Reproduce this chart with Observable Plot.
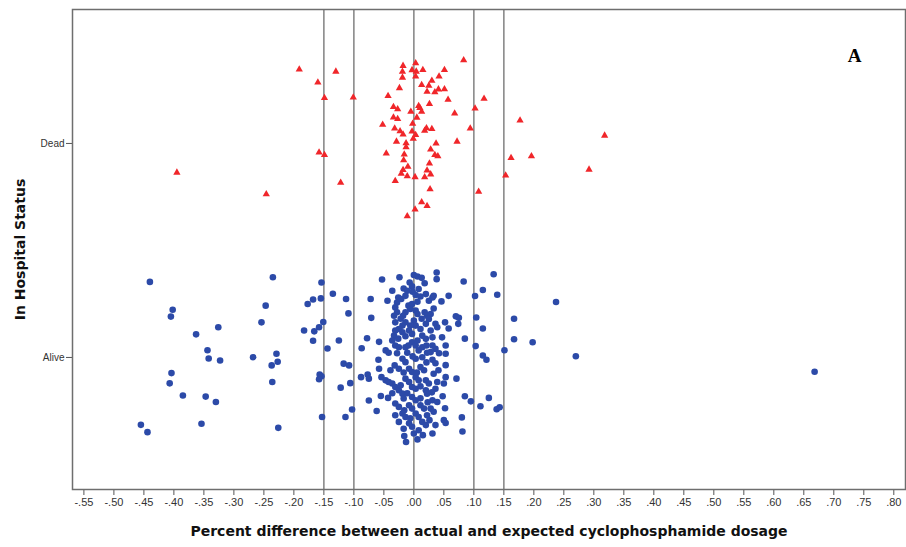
<!DOCTYPE html>
<html><head><meta charset="utf-8">
<script src="https://cdn.jsdelivr.net/npm/d3@7"></script>
<script src="https://cdn.jsdelivr.net/npm/@observablehq/plot@0.6"></script>
<style>body{margin:0;background:#fff;overflow:hidden}</style>
</head><body><div id="chart"></div>
<script>
// Categories (numeric codes on the y scale: Alive = 0, Dead = 1)
const statuses = ["Alive", "Dead"];
// x tick values and labels
const xTicks = [-0.55,-0.50,-0.45,-0.40,-0.35,-0.30,-0.25,-0.20,-0.15,-0.10,-0.05,0.00,0.05,0.10,0.15,0.20,0.25,0.30,0.35,0.40,0.45,0.50,0.55,0.60,0.65,0.70,0.75,0.80];
// reference lines
const referenceLines = [-0.15, -0.10, 0.00, 0.10, 0.15];
// [percent difference, vertical jitter in status units] for patients who died
const deadPoints = [
[-0.191,0.346],[-0.130,0.336],[-0.160,0.285],[-0.149,0.213],[-0.101,0.215],[-0.158,-0.042],[-0.149,-0.054],[-0.395,-0.136],[-0.122,-0.183],[-0.246,-0.237],
[0.083,0.389],[0.117,0.209],[0.102,0.164],[0.068,0.140],[0.094,0.070],[0.072,0.009],[0.177,0.108],[0.318,0.037],[0.162,-0.068],[0.196,-0.059],[0.292,-0.122],[0.153,-0.149],[0.108,-0.225],
[-0.018,0.363],[0.003,0.375],[-0.019,0.335],[-0.003,0.343],[0.004,0.336],[0.015,0.344],[-0.019,0.308],[0.003,0.313],[0.051,0.344],[0.042,0.313],
[0.030,0.293],[0.013,0.274],[0.025,0.270],[-0.024,0.259],[0.041,0.253],[0.051,0.254],[0.035,0.240],[0.022,0.242],[-0.043,0.222],[0.057,0.205],
[0.026,0.185],[-0.034,0.171],[-0.027,0.160],[0.008,0.175],[0.010,0.166],[-0.005,0.149],[0.013,0.149],[-0.034,0.122],[-0.027,0.115],[0.005,0.121],
[-0.052,0.088],[-0.002,0.092],[-0.032,0.070],[-0.023,0.057],[-0.018,0.042],[-0.003,0.056],[0.003,0.040],[-0.001,0.022],[0.018,0.060],[0.021,0.071],
[0.030,0.068],[-0.029,0.009],[-0.013,0.001],[-0.013,-0.017],[0.037,0.000],[0.028,-0.028],[-0.046,-0.047],[-0.016,-0.051],[0.035,-0.054],[0.040,-0.059],
[-0.017,-0.078],[0.026,-0.093],[-0.010,-0.108],[-0.018,-0.124],[-0.021,-0.141],[0.022,-0.126],[0.028,-0.144],[-0.011,-0.153],[0.002,-0.157],[0.018,-0.158],
[-0.031,-0.175],[0.027,-0.214],[0.013,-0.274],[0.022,-0.292],[0.002,-0.308],[-0.011,-0.340]
];
// [percent difference, vertical jitter in status units] for patients alive at discharge
const alivePoints = [
[-0.440,0.353],[-0.235,0.375],[-0.402,0.223],[-0.405,0.191],[-0.326,0.141],[-0.363,0.108],[-0.247,0.242],[-0.254,0.164],[-0.344,0.034],[-0.342,-0.005],
[-0.323,-0.014],[-0.268,0.001],[-0.229,0.017],[-0.227,-0.020],[-0.237,-0.037],[-0.236,-0.115],[-0.404,-0.073],[-0.407,-0.121],[-0.385,-0.178],[-0.347,-0.183],
[-0.330,-0.208],[-0.455,-0.315],[-0.444,-0.349],[-0.354,-0.310],[-0.226,-0.329],
[-0.154,0.350],[-0.135,0.298],[-0.168,0.271],[-0.155,0.276],[-0.177,0.250],[-0.113,0.273],[-0.109,0.206],[-0.151,0.166],[-0.158,0.141],[-0.166,0.122],
[-0.183,0.126],[-0.168,0.078],[-0.125,0.079],[-0.144,0.042],[-0.117,-0.029],[-0.108,-0.037],[-0.157,-0.080],[-0.154,-0.088],[-0.158,-0.102],[-0.122,-0.141],
[-0.106,-0.120],[-0.153,-0.278],[-0.114,-0.278],[-0.103,-0.243],[-0.053,0.364],[-0.024,0.375],[-0.072,0.273],[-0.044,0.265],[-0.071,0.185],[-0.078,0.090],
[-0.058,0.073],[-0.087,0.043],[-0.059,-0.011],[-0.058,-0.053],[-0.088,-0.092],[-0.077,-0.080],[-0.075,-0.099],[-0.054,-0.092],[-0.075,-0.201],[-0.055,-0.180],
[-0.043,-0.189],[-0.062,-0.250],[-0.013,-0.395],
[0.000,0.385],[0.006,0.378],[0.013,0.372],[0.038,0.397],[0.038,0.366],[0.018,0.347],[-0.007,0.350],[-0.003,0.332],[-0.017,0.322],[-0.011,0.312],
[-0.026,0.280],[-0.028,0.257],[-0.021,0.273],[-0.014,0.288],[-0.002,0.307],[0.003,0.292],[0.008,0.320],[0.011,0.285],[0.020,0.296],[0.031,0.280],
[0.033,0.288],[0.006,0.260],[-0.009,0.242],[-0.006,0.227],[-0.003,0.250],[-0.031,0.234],[-0.028,0.211],[0.033,0.229],[-0.014,0.211],[-0.018,0.195],
[-0.033,0.195],[-0.031,0.164],[0.003,0.219],[0.006,0.203],[0.018,0.211],[0.022,0.195],[0.028,0.203],[0.025,0.180],[0.000,0.172],[0.003,0.149],
[-0.014,0.164],[-0.019,0.149],[-0.025,0.133],[-0.031,0.126],[0.036,0.157],[0.039,0.141],[0.020,0.157],[-0.008,0.126],[-0.003,0.110],[0.011,0.133],
[-0.014,0.099],[-0.019,0.118],[-0.033,0.102],[-0.036,0.079],[0.014,0.102],[0.020,0.087],[0.031,0.094],[0.047,0.094],[-0.003,0.071],[0.003,0.056],
[-0.031,0.056],[-0.025,0.048],[-0.014,0.048],[0.014,0.048],[0.008,0.033],[0.031,0.056],[0.036,0.040],[-0.047,0.033],[-0.042,0.022],[-0.011,0.022],[0.022,0.022],
[-0.028,0.020],[0.028,0.025],[0.042,0.020],[-0.019,-0.006],[-0.014,-0.022],[0.003,-0.006],[0.014,0.001],[0.031,-0.011],[0.036,-0.027],[-0.032,-0.037],
[-0.025,-0.053],[-0.008,-0.053],[-0.003,-0.068],[0.011,-0.045],[0.017,-0.060],[0.033,-0.076],[0.053,-0.092],[0.071,-0.099],[-0.047,-0.107],[-0.042,-0.115],
[-0.014,-0.099],[-0.008,-0.115],[0.003,-0.092],[0.008,-0.107],[0.020,-0.107],[0.025,-0.122],[0.039,-0.115],[0.050,-0.122],[-0.036,-0.122],[-0.031,-0.138],
[-0.025,-0.153],[-0.003,-0.138],[0.003,-0.146],[0.020,-0.153],[0.022,-0.169],[0.036,-0.146],[-0.019,-0.169],[-0.017,-0.192],[-0.003,-0.185],[0.003,-0.200],
[0.031,-0.200],[0.039,-0.208],[-0.031,-0.215],[-0.025,-0.231],[-0.008,-0.223],[-0.003,-0.239],[0.011,-0.223],[0.017,-0.239],[0.028,-0.239],[0.033,-0.254],
[-0.019,-0.262],[-0.014,-0.278],[0.003,-0.262],[0.008,-0.278],[0.022,-0.270],[0.050,-0.293],[0.053,-0.306],[-0.025,-0.301],[-0.008,-0.308],[-0.003,-0.324],
[0.014,-0.301],[0.020,-0.316],[0.036,-0.316],[-0.017,-0.333],[0.008,-0.340],[0.031,-0.355],[0.006,-0.383],[0.000,-0.355],
[-0.036,0.312],[0.025,0.265],[-0.022,0.181],[0.013,0.181],[-0.006,0.149],[0.028,0.126],[-0.026,0.088],[0.006,0.079],[-0.009,0.056],[0.021,0.056],
[-0.002,0.005],[0.021,-0.023],[-0.039,-0.060],[-0.017,-0.070],[0.005,-0.070],[0.041,-0.060],[-0.022,-0.130],[0.011,-0.135],[0.030,-0.163],[-0.036,-0.167],
[-0.011,-0.167],[0.011,-0.191],[0.048,-0.181],[0.023,-0.209],[-0.016,-0.247],[-0.006,-0.284],[0.026,-0.293],[-0.031,-0.270],[0.015,-0.363],[-0.016,-0.367],
[0.083,0.355],[0.133,0.389],[0.115,0.315],[0.139,0.293],[0.102,0.287],[0.237,0.259],[0.104,0.187],[0.167,0.181],[0.115,0.135],[0.167,0.085],
[0.198,0.071],[0.085,0.088],[0.103,0.053],[0.115,0.009],[0.121,-0.011],[0.151,0.034],[0.270,0.006],[0.085,-0.181],[0.095,-0.205],[0.125,-0.189],
[0.111,-0.228],[0.138,-0.242],[0.143,-0.233],[0.080,-0.280],[0.081,-0.346],[0.074,0.157],[0.070,0.192],[0.075,0.185],[0.058,0.288],[0.046,0.262],
[0.052,0.164],[0.058,0.135],[0.053,0.056],[0.053,0.017],[0.053,-0.036],[0.052,-0.237],[0.668,-0.067]
];
const xTitle = "Percent difference between actual and expected cyclophosphamide dosage";
const yTitle = "In Hospital Status";
const panelLabel = "A";

const toRows = (pts, status) => pts.map(([x, j]) => ({status, x, y: statuses.indexOf(status) + j}));
const alive = toRows(alivePoints, "Alive");
const dead = toRows(deadPoints, "Dead");
const fmt = d => (d < -1e-9 ? "-" : "") + Math.abs(d).toFixed(2).slice(1);

const chart = Plot.plot({
  width: 906, height: 547,
  marginLeft: 72, marginRight: 1, marginTop: 9, marginBottom: 58,
  x: {domain: [-0.569, 0.8195]},
  y: {domain: [-0.617, 1.626]},
  style: {fontFamily: "'Liberation Sans', Arial, sans-serif", fontSize: "11px", color: "#333", background: "#fff"},
  marks: [
    Plot.ruleX(referenceLines, {stroke: "#8a8a8a", strokeWidth: 1.6}),
    Plot.axisX({ticks: xTicks, tickFormat: fmt, tickSize: 6, tickPadding: 3, label: null, fontSize: 11, stroke: "#555"}),
    Plot.axisY({ticks: [0, 1], tickFormat: d => statuses[d], tickSize: 6, tickPadding: 2, label: null, fontSize: 10, stroke: "#555"}),
    Plot.dot(alive, {x: "x", y: "y", r: 3.3, fill: "#2c4aa8", symbol: "circle"}),
    Plot.dot(dead, {x: "x", y: "y", r: 2.7, fill: "#f0262a", symbol: "triangle"}),
    Plot.frame({stroke: "#6e6e6e", strokeWidth: 1.5}),
    Plot.text([xTitle], {frameAnchor: "bottom", dy: 42, textAnchor: "middle", lineAnchor: "middle", fontWeight: "bold", fontSize: 14, fill: "#111", fontFamily: "'DejaVu Sans', sans-serif"}),
    Plot.text([yTitle], {frameAnchor: "left", dx: -52, rotate: -90, textAnchor: "middle", lineAnchor: "middle", fontWeight: "bold", fontSize: 14, fill: "#111", fontFamily: "'DejaVu Sans', sans-serif"}),
    Plot.text([panelLabel], {frameAnchor: "top-right", dx: -51, dy: 46, textAnchor: "middle", lineAnchor: "middle", fontFamily: "'Liberation Serif', serif", fontWeight: "bold", fontSize: 19, fill: "#000"})
  ]
});
document.getElementById("chart").appendChild(chart);
</script>
</body></html>
